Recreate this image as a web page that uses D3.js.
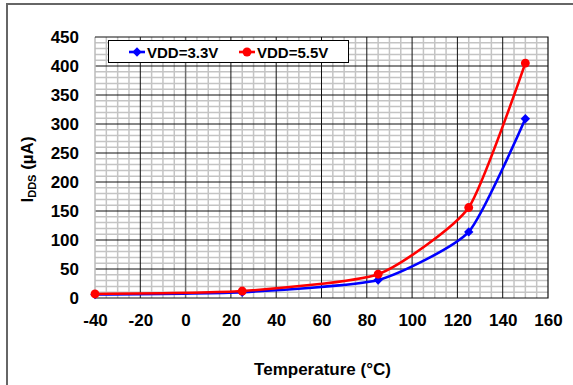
<!DOCTYPE html>
<html><head><meta charset="utf-8">
<script src="https://cdn.jsdelivr.net/npm/d3@7"></script>
<style>body{margin:0;background:#fff}svg{display:block;font-family:"Liberation Sans",Arial,sans-serif}</style>
</head><body><svg id="c" width="573" height="385"></svg>
<script>
const temps = [-40, 25, 85, 125, 150];
const vdd33 = [6, 10, 31, 114, 309];
const vdd55 = [7, 12, 41, 156, 405];
const seriesNames = ["VDD=3.3V", "VDD=5.5V"];
const xTicks = [-40, -20, 0, 20, 40, 60, 80, 100, 120, 140, 160];
const yTicks = [0, 50, 100, 150, 200, 250, 300, 350, 400, 450];

const svg = d3.select("#c");
const L = 95, R = 548, T = 37, B = 298;
const x = d3.scaleLinear().domain([-40, 160]).range([L, R]);
const y = d3.scaleLinear().domain([0, 450]).range([B, T]);

// square diamond symbol (Excel style)
const squareDiamond = {
  draw(ctx, size) {
    const r = Math.sqrt(size / 2);
    ctx.moveTo(0, -r); ctx.lineTo(r, 0); ctx.lineTo(0, r); ctx.lineTo(-r, 0); ctx.closePath();
  }
};

// outer frame
svg.append("path").attr("d", "M7,390 V4 H580").attr("fill", "none").attr("stroke", "#666").attr("stroke-width", 2);

const g = svg.append("g");
// minor grid
g.selectAll(".mx").data(d3.range(-40, 161, 5).filter(v => v % 20 !== 0)).join("line")
  .attr("x1", d => x(d)).attr("x2", d => x(d)).attr("y1", T).attr("y2", B)
  .attr("stroke", "#c4c4c4").attr("stroke-width", 1.5);
g.selectAll(".my").data(d3.range(0, 451, 10).filter(v => v % 50 !== 0)).join("line")
  .attr("y1", d => y(d)).attr("y2", d => y(d)).attr("x1", L).attr("x2", R)
  .attr("stroke", "#c4c4c4").attr("stroke-width", 1.5);
// major grid
g.selectAll(".Mx").data(xTicks.slice(1, -1)).join("line")
  .attr("x1", d => x(d)).attr("x2", d => x(d)).attr("y1", T).attr("y2", B)
  .attr("stroke", d => d === 0 ? "#6e6e6e" : "#111").attr("stroke-width", d => d === 0 ? 1.5 : 1);
g.selectAll(".My").data(yTicks.slice(1, -1)).join("line")
  .attr("y1", d => y(d)).attr("y2", d => y(d)).attr("x1", L).attr("x2", R)
  .attr("stroke", "#111").attr("stroke-width", 1);
// plot border
g.append("line").attr("x1", L).attr("x2", L).attr("y1", T).attr("y2", B).attr("stroke", "#bbb").attr("stroke-width", 1.5);
g.append("path").attr("d", `M${L},${T} H${R} V${B} H${L}`).attr("fill", "none").attr("stroke", "#111").attr("stroke-width", 1.2);

// axes labels (no tick marks)
const xa = svg.append("g").attr("transform", `translate(0,${B})`)
  .call(d3.axisBottom(x).tickValues(xTicks).tickFormat(d => String(d)).tickSize(0).tickPadding(16));
xa.select(".domain").remove();
xa.selectAll("text").attr("font-size", 17).attr("font-weight", "bold").attr("fill", "#000")
  .attr("font-family", "Liberation Sans, Arial, sans-serif");
const ya = svg.append("g").attr("transform", `translate(${L},0)`)
  .call(d3.axisLeft(y).tickValues(yTicks).tickFormat(d => String(d)).tickSize(0).tickPadding(16));
ya.select(".domain").remove();
ya.selectAll("text").attr("font-size", 17).attr("font-weight", "bold").attr("fill", "#000")
  .attr("font-family", "Liberation Sans, Arial, sans-serif");

// curves
const series = [
  {name: seriesNames[0], vals: vdd33, color: "#0000ff", sym: squareDiamond, size: 44},
  {name: seriesNames[1], vals: vdd55, color: "#ff0000", sym: d3.symbolCircle, size: 62}
];
const line = d3.line().x(d => x(d[0])).y(d => y(d[1])).curve(d3.curveCardinal.tension(0.45));
series.forEach(s => {
  const pts = temps.map((t, i) => [t, s.vals[i]]);
  svg.append("path").attr("d", line(pts)).attr("fill", "none").attr("stroke", s.color).attr("stroke-width", 2.6);
  svg.selectAll(null).data(pts).join("path")
    .attr("transform", d => `translate(${x(d[0])},${y(d[1])})`)
    .attr("d", d3.symbol().type(s.sym).size(s.size))
    .attr("fill", s.color);
});

// legend
const lg = svg.append("g");
lg.append("rect").attr("x", 108.5).attr("y", 40.5).attr("width", 240).attr("height", 22)
  .attr("fill", "#fff").attr("stroke", "#000").attr("stroke-width", 1);
const lx = [129, 239];
series.forEach((s, i) => {
  lg.append("line").attr("x1", lx[i]).attr("x2", lx[i] + 16).attr("y1", 52).attr("y2", 52)
    .attr("stroke", s.color).attr("stroke-width", 2.6);
  lg.append("path").attr("transform", `translate(${lx[i] + 8},52)`)
    .attr("d", d3.symbol().type(s.sym).size(s.size)).attr("fill", s.color);
  lg.append("text").attr("x", lx[i] + 18).attr("y", 57.5).text(s.name)
    .attr("font-size", 15).attr("font-weight", "bold");
});

// axis titles
svg.append("text").attr("x", (L + R) / 2 + 1).attr("y", 375).attr("text-anchor", "middle")
  .attr("font-size", 17).attr("font-weight", "bold").text("Temperature (°C)");
const yt = svg.append("text").attr("transform", `translate(33,${(T + B) / 2 + 2}) rotate(-90)`)
  .attr("text-anchor", "middle").attr("font-size", 17).attr("font-weight", "bold");
yt.append("tspan").text("I");
yt.append("tspan").attr("font-size", 11).attr("dy", 3).text("DDS");
yt.append("tspan").attr("dy", -3).text(" (µA)");
</script></body></html>
